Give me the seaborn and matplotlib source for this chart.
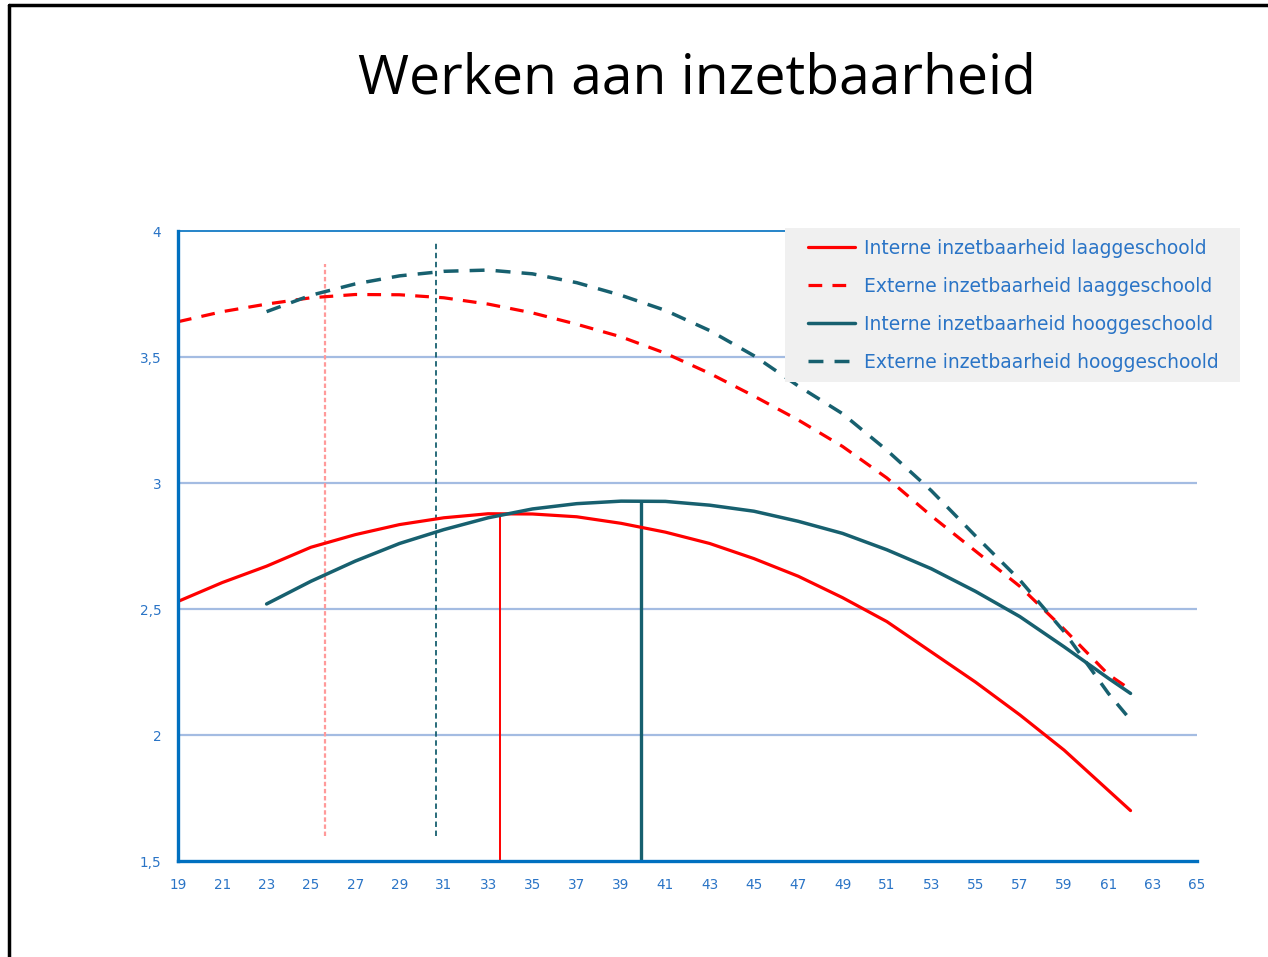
import matplotlib
matplotlib.use("Agg")
import matplotlib.pyplot as plt
from matplotlib.lines import Line2D
from matplotlib.patches import Rectangle
import numpy as np
import pandas as pd
import seaborn as sns

# leeftijden
age_laag = [19, 21, 23, 25, 27, 29, 31, 33, 35, 37, 39, 41, 43, 45, 47, 49, 51, 53, 55, 57, 59, 61, 62]
age_hoog = [23, 25, 27, 29, 31, 33, 35, 37, 39, 41, 43, 45, 47, 49, 51, 53, 55, 57, 59, 61, 62]

intern_laag = [2.53, 2.605, 2.67, 2.745, 2.795, 2.835, 2.862, 2.878, 2.877, 2.866, 2.84, 2.805,
               2.76, 2.70, 2.63, 2.545, 2.45, 2.33, 2.21, 2.08, 1.94, 1.78, 1.70]
extern_laag = [3.64, 3.68, 3.71, 3.735, 3.748, 3.747, 3.735, 3.71, 3.675, 3.63, 3.58, 3.515,
               3.435, 3.345, 3.25, 3.145, 3.02, 2.87, 2.73, 2.59, 2.42, 2.24, 2.18]
intern_hoog = [2.52, 2.61, 2.69, 2.76, 2.815, 2.862, 2.897, 2.918, 2.928, 2.927, 2.912, 2.888,
               2.848, 2.80, 2.735, 2.66, 2.57, 2.47, 2.35, 2.225, 2.165]
extern_hoog = [3.68, 3.745, 3.79, 3.822, 3.84, 3.845, 3.83, 3.795, 3.745, 3.685, 3.605, 3.505,
               3.385, 3.275, 3.13, 2.97, 2.79, 2.615, 2.41, 2.165, 2.06]

labels = ["Interne inzetbaarheid laaggeschoold", "Externe inzetbaarheid laaggeschoold",
          "Interne inzetbaarheid hooggeschoold", "Externe inzetbaarheid hooggeschoold"]

# verticale hulplijnen
vline_x = [25.64, 30.65, 33.55, 39.9]
vline_ymin = [1.6, 1.6, 1.5, 1.5]
vline_ymax = [3.87, 3.96, 2.88, 2.93]

xticks = list(range(19, 66, 2))
yticks = [1.5, 2, 2.5, 3, 3.5, 4]
ytick_labels = ["1,5", "2", "2,5", "3", "3,5", "4"]

RED = "#ff0000"
TEAL = "#17606f"
BLUE = "#0070c0"
TXT = "#2a74c6"
GRID = "#a4bce2"

sns.set_style("white")
plt.rcParams["font.family"] = ["DejaVu Sans"]

fig = plt.figure(figsize=(12.68, 9.57), dpi=100)
ax = fig.add_axes([178 / 1268, 1 - 861 / 957, 1019 / 1268, 630 / 957])

for y in [2, 2.5, 3, 3.5]:
    ax.axhline(y, color=GRID, lw=1.6, zorder=0)

# verticale lijnen
ax.vlines(vline_x[0], vline_ymin[0], vline_ymax[0], color="#ff9a9a", lw=1.6, linestyles=(0, (2, 1.2)))
ax.vlines(vline_x[1], vline_ymin[1], vline_ymax[1], color=TEAL, lw=1.3, linestyles=(0, (3, 2)))
ax.vlines(vline_x[2], vline_ymin[2], vline_ymax[2], color=RED, lw=1.4)
ax.vlines(vline_x[3], vline_ymin[3], vline_ymax[3], color=TEAL, lw=2.4)

df_laag = pd.DataFrame({"leeftijd": age_laag, "intern": intern_laag, "extern": extern_laag})
df_hoog = pd.DataFrame({"leeftijd": age_hoog, "intern": intern_hoog, "extern": extern_hoog})

common = dict(ax=ax, solid_joinstyle="round", solid_capstyle="round")
sns.lineplot(data=df_laag, x="leeftijd", y="intern", color=RED, lw=2.3, label=labels[0], **common)
sns.lineplot(data=df_laag, x="leeftijd", y="extern", color=RED, lw=2.3,
             linestyle=(0, (4.3, 3.2)), label=labels[1], **common)
sns.lineplot(data=df_hoog, x="leeftijd", y="intern", color=TEAL, lw=2.5, label=labels[2], **common)
sns.lineplot(data=df_hoog, x="leeftijd", y="extern", color=TEAL, lw=2.5,
             linestyle=(0, (4.3, 3.2)), label=labels[3], **common)

ax.set_xlim(19, 65)
ax.set_ylim(1.5, 4)
ax.set_xticks(xticks)
ax.set_yticks(yticks)
ax.set_yticklabels(ytick_labels)
ax.set_xlabel("")
ax.set_ylabel("")
ax.tick_params(axis="both", direction="out", length=5, width=1.3, color=BLUE,
               labelcolor=TXT, labelsize=9.8, pad=7)

for s in ["left", "bottom"]:
    ax.spines[s].set_color(BLUE)
    ax.spines[s].set_linewidth(2.4)
ax.spines["top"].set_color(BLUE)
ax.spines["top"].set_linewidth(1.2)
ax.spines["right"].set_visible(False)

# grijze legendavlak
ax.add_patch(Rectangle((607 / 1019, 479 / 630), 455 / 1019, 154 / 630, transform=ax.transAxes,
                       facecolor="#f0f0f0", edgecolor="none", clip_on=False, zorder=4.5))

leg = ax.legend(loc="upper left", bbox_to_anchor=(630 / 1019, 622 / 630), borderaxespad=0,
                frameon=False, fontsize=13.5, handlelength=2.5, handletextpad=0.5,
                labelspacing=1.01, borderpad=0)
leg.set_zorder(5)
for t in leg.get_texts():
    t.set_color(TXT)

fig.text(697 / 1268, 1 - 79 / 957, "Werken aan inzetbaarheid", ha="center", va="center",
         fontsize=39.8, family=["Open Sans", "DejaVu Sans"], color="black")

# dia-kader
fig.add_artist(Line2D([9 / 1268, 9 / 1268], [0, 1 - 5 / 957], color="black", lw=2.5,
                      transform=fig.transFigure))
fig.add_artist(Line2D([9 / 1268, 1], [1 - 5 / 957, 1 - 5 / 957], color="black", lw=2.5,
                      transform=fig.transFigure))

fig.savefig("out.png", dpi=100)
